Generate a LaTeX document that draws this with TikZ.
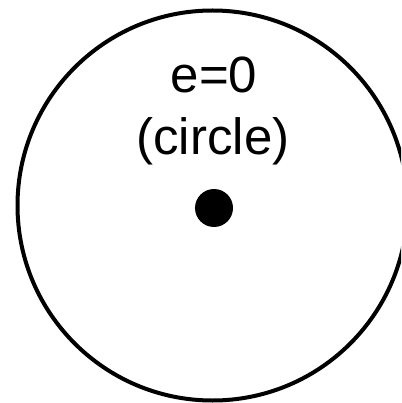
\documentclass[tikz,border=0pt]{standalone}
\usepackage{fontspec}
\setmainfont{Liberation Sans}
\begin{document}
\begin{tikzpicture}[x=1pt,y=-1pt,
  orbit/.style={draw=black,line width=4pt},
  focus/.style={circle,fill=black,inner sep=0pt,minimum size=38pt},
  lbl/.style={font=\fontsize{51}{62}\selectfont,align=center,inner sep=0pt}]
\useasboundingbox (0,0) rectangle (401,403);
\clip (0,0) rectangle (401,403);
\fill[white] (0,0) rectangle (401,403);
\node[orbit,circle,minimum size=390pt,inner sep=0pt] (orb) at (212.5,205.5) {};
\node[focus] (f) at (214,208) {};
\node[lbl,anchor=base] (t1) at (214,93) {e=0};
\node[lbl,anchor=base] (t2) at (213,155) {(circle)};
\end{tikzpicture}
\end{document}
